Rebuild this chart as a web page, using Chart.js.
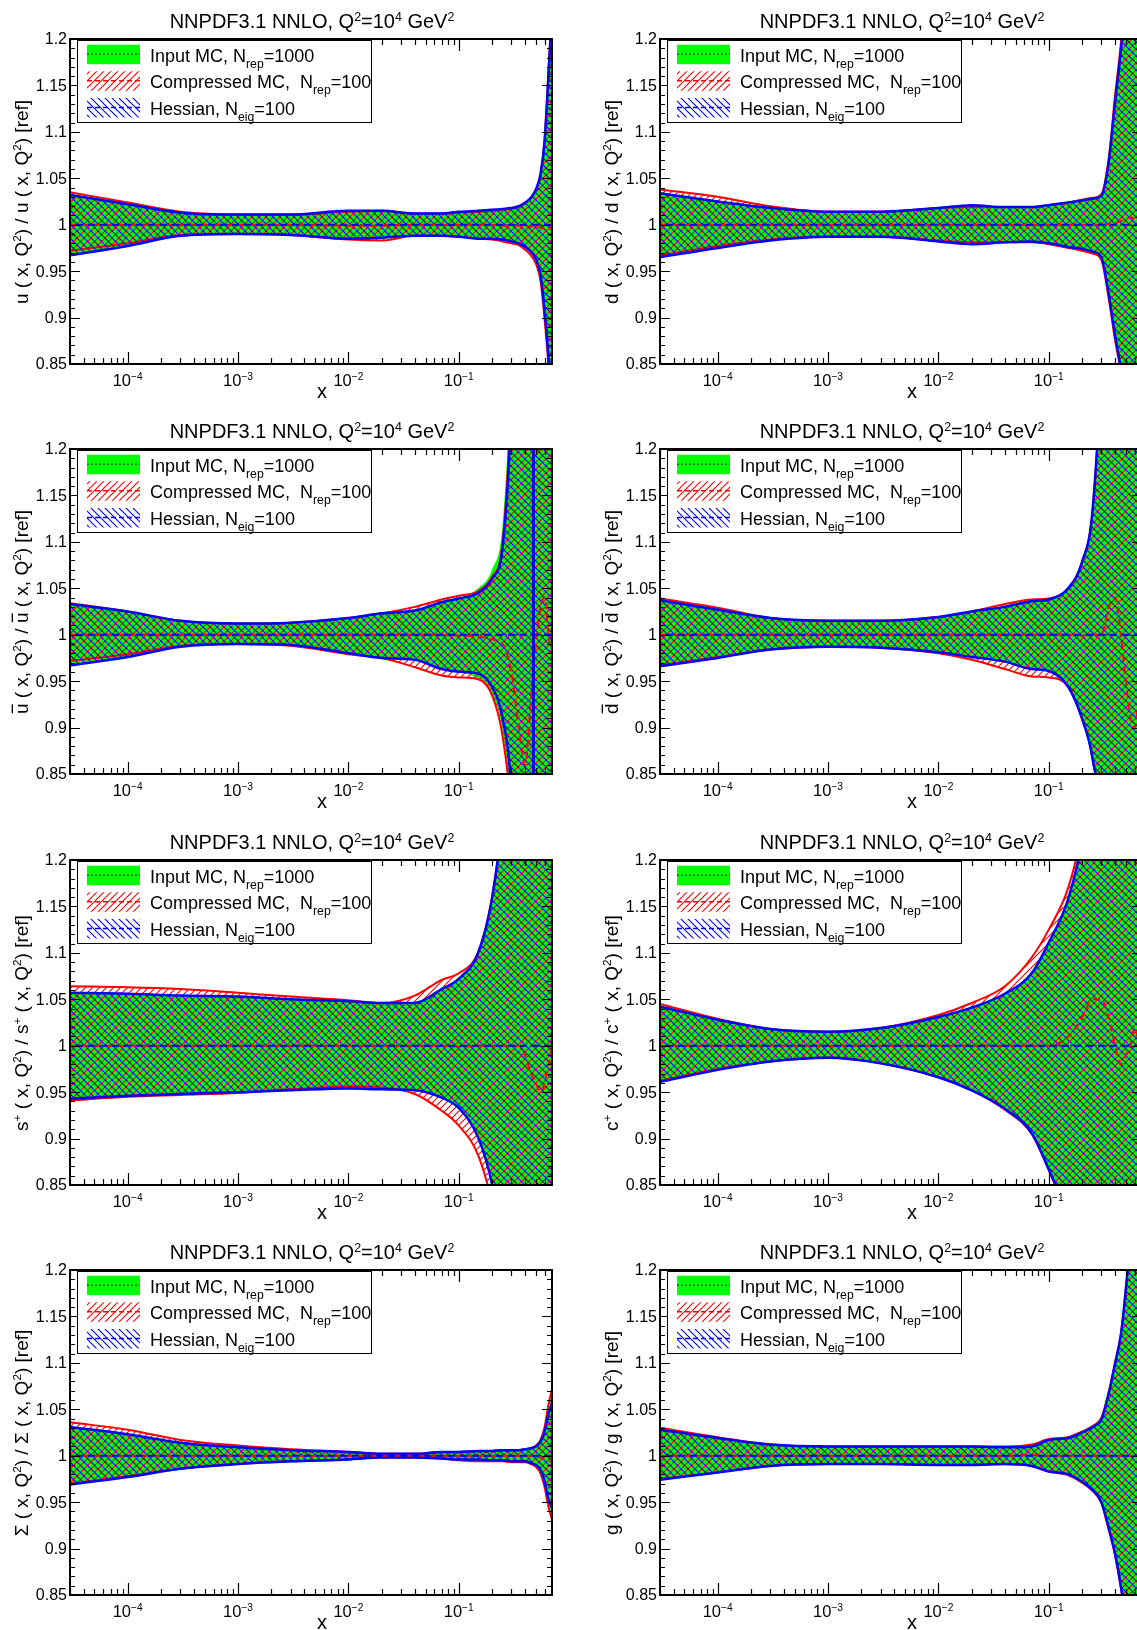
<!DOCTYPE html>
<html>
<head>
<meta charset="utf-8">
<script src="https://cdn.jsdelivr.net/npm/chart.js@4.4.1/dist/chart.umd.min.js"></script>
<style>
  html, body { margin: 0; padding: 0; background: #fff; overflow: hidden; }
  #wrap { position: relative; width: 1137px; height: 1630px; overflow: hidden; }
  #wrap canvas { position: absolute; }
</style>
</head>
<body>
<div id="wrap"></div>
<script>
// x grid shared by every band (log scale)
const xGrid = [3e-5, 1e-4, 3e-4, 1e-3, 3e-3, 1e-2, 2e-2, 4e-2, 7e-2, 0.1, 0.15, 0.2, 0.25, 0.3, 0.35, 0.4, 0.45, 0.5, 0.55, 0.6, 0.65, 0.7];
const ones  = [1, 1, 1, 1, 1, 1, 1, 1, 1, 1, 1, 1, 1, 1, 1, 1, 1, 1, 1, 1, 1, 1];

const yTickVals   = [0.85, 0.9, 0.95, 1, 1.05, 1.1, 1.15, 1.2];
const yTickLabels = ['0.85', '0.9', '0.95', '1', '1.05', '1.1', '1.15', '1.2'];
const xTickExps   = [-4, -3, -2, -1];

// u
const uMcUp  = [1.033, 1.023, 1.013, 1.011, 1.011, 1.014, 1.015, 1.012, 1.012, 1.014, 1.015, 1.016, 1.017, 1.018, 1.020, 1.024, 1.029, 1.038, 1.054, 1.090, 1.158, 1.230];
const uMcLo  = [0.967, 0.977, 0.988, 0.990, 0.989, 0.985, 0.985, 0.988, 0.988, 0.987, 0.985, 0.985, 0.984, 0.982, 0.980, 0.976, 0.971, 0.963, 0.947, 0.907, 0.857, 0.790];
const uCmUp  = [1.035, 1.024, 1.014, 1.011, 1.011, 1.014, 1.015, 1.012, 1.012, 1.013, 1.014, 1.015, 1.016, 1.017, 1.019, 1.023, 1.028, 1.037, 1.053, 1.092, 1.165, 1.240];
const uCmLo  = [0.972, 0.980, 0.989, 0.990, 0.989, 0.984, 0.983, 0.988, 0.988, 0.987, 0.985, 0.984, 0.982, 0.980, 0.978, 0.973, 0.967, 0.958, 0.940, 0.898, 0.848, 0.780];
const uHsUp  = [1.032, 1.022, 1.013, 1.011, 1.011, 1.015, 1.015, 1.012, 1.012, 1.014, 1.015, 1.016, 1.017, 1.018, 1.020, 1.024, 1.029, 1.038, 1.054, 1.090, 1.160, 1.230];
const uHsLo  = [0.967, 0.977, 0.988, 0.990, 0.989, 0.985, 0.986, 0.988, 0.988, 0.987, 0.985, 0.985, 0.984, 0.982, 0.980, 0.976, 0.971, 0.963, 0.947, 0.907, 0.857, 0.790];
const uCmMid = [1.000, 1.000, 1.000, 1.000, 1.000, 0.999, 0.999, 1.000, 1.000, 1.000, 1.000, 1.000, 0.999, 0.999, 0.999, 0.999, 0.998, 0.998, 0.997, 0.996, 0.995, 0.995];

// d
const dMcUp  = [1.034, 1.025, 1.018, 1.014, 1.014, 1.018, 1.020, 1.019, 1.019, 1.021, 1.024, 1.026, 1.028, 1.031, 1.068, 1.133, 1.187, 1.250, 1.350, 1.500, 1.700, 2.000];
const dMcLo  = [0.966, 0.976, 0.984, 0.987, 0.987, 0.983, 0.980, 0.981, 0.982, 0.980, 0.976, 0.974, 0.971, 0.965, 0.925, 0.880, 0.845, 0.800, 0.720, 0.600, 0.500, 0.400];
const dCmUp  = [1.038, 1.030, 1.020, 1.014, 1.014, 1.018, 1.019, 1.019, 1.019, 1.021, 1.024, 1.027, 1.029, 1.033, 1.072, 1.140, 1.195, 1.260, 1.360, 1.500, 1.700, 2.000];
const dCmLo  = [0.967, 0.977, 0.984, 0.987, 0.987, 0.983, 0.981, 0.981, 0.981, 0.979, 0.975, 0.972, 0.969, 0.962, 0.920, 0.875, 0.840, 0.790, 0.710, 0.600, 0.500, 0.400];
const dHsUp  = [1.034, 1.025, 1.018, 1.014, 1.014, 1.018, 1.021, 1.019, 1.019, 1.021, 1.024, 1.026, 1.028, 1.031, 1.068, 1.133, 1.187, 1.250, 1.350, 1.500, 1.700, 2.000];
const dHsLo  = [0.965, 0.975, 0.983, 0.987, 0.987, 0.982, 0.979, 0.981, 0.982, 0.980, 0.976, 0.974, 0.971, 0.965, 0.925, 0.880, 0.845, 0.800, 0.720, 0.600, 0.500, 0.400];
const dCmMid = [1.000, 1.000, 1.000, 1.000, 1.000, 1.000, 1.000, 1.000, 1.000, 1.000, 1.000, 1.000, 1.000, 1.000, 1.001, 1.002, 1.004, 1.006, 1.008, 1.006, 1.002, 0.998];

// ubar
const ubMcUp  = [1.034, 1.025, 1.015, 1.012, 1.013, 1.018, 1.023, 1.026, 1.035, 1.039, 1.050, 1.070, 1.120, 1.300, 1.600, 1.800, 2.000, 2.000, 2.000, 2.000, 2.000, 2.000];
const ubMcLo  = [0.967, 0.976, 0.987, 0.990, 0.989, 0.980, 0.975, 0.973, 0.963, 0.960, 0.952, 0.935, 0.895, 0.800, 0.600, 0.400, 0.200, 0.200, 0.200, 0.200, 0.200, 0.200];
const ubCmUp  = [1.034, 1.025, 1.015, 1.012, 1.013, 1.018, 1.023, 1.030, 1.038, 1.042, 1.047, 1.062, 1.100, 1.270, 1.600, 1.800, 2.000, 2.000, 2.000, 2.000, 2.000, 2.000];
const ubCmLo  = [0.972, 0.979, 0.988, 0.990, 0.988, 0.979, 0.975, 0.965, 0.956, 0.954, 0.952, 0.935, 0.890, 0.800, 0.600, 0.400, 0.200, 0.200, 0.200, 0.200, 0.200, 0.200];
const ubHsUp  = [1.033, 1.025, 1.015, 1.012, 1.013, 1.018, 1.023, 1.026, 1.035, 1.039, 1.045, 1.060, 1.095, 1.250, 1.600, 1.800, 2.000, 2.000, 2.000, 2.000, 2.000, 2.000];
const ubHsLo  = [0.967, 0.976, 0.987, 0.990, 0.989, 0.980, 0.975, 0.973, 0.963, 0.960, 0.958, 0.944, 0.910, 0.830, 0.600, 0.400, 0.200, 0.200, 0.200, 0.200, 0.200, 0.200];
const ubCmMid = [1.000, 1.000, 1.000, 1.000, 1.000, 1.000, 1.000, 1.000, 1.000, 0.999, 0.998, 0.995, 0.990, 0.960, 0.900, 0.860, 0.930, 0.990, 1.030, 1.040, 1.000, 0.980];
const ubPoleX = [0.475, 0.475];
const ubPoleY = [0.80, 1.25];

// dbar
const dbMcUp  = [1.038, 1.028, 1.018, 1.015, 1.015, 1.019, 1.025, 1.030, 1.036, 1.038, 1.050, 1.078, 1.135, 1.300, 1.600, 2.000, 2.000, 2.000, 2.000, 2.000, 2.000, 2.000];
const dbMcLo  = [0.966, 0.975, 0.984, 0.987, 0.986, 0.981, 0.976, 0.971, 0.963, 0.961, 0.944, 0.910, 0.866, 0.780, 0.500, 0.200, 0.200, 0.200, 0.200, 0.200, 0.200, 0.200];
const dbCmUp  = [1.039, 1.029, 1.018, 1.015, 1.015, 1.019, 1.025, 1.033, 1.038, 1.039, 1.050, 1.078, 1.135, 1.300, 1.600, 2.000, 2.000, 2.000, 2.000, 2.000, 2.000, 2.000];
const dbCmLo  = [0.967, 0.976, 0.984, 0.987, 0.986, 0.980, 0.973, 0.963, 0.955, 0.954, 0.944, 0.910, 0.866, 0.780, 0.500, 0.200, 0.200, 0.200, 0.200, 0.200, 0.200, 0.200];
const dbHsUp  = [1.037, 1.027, 1.018, 1.015, 1.015, 1.019, 1.025, 1.030, 1.036, 1.038, 1.050, 1.078, 1.135, 1.300, 1.600, 2.000, 2.000, 2.000, 2.000, 2.000, 2.000, 2.000];
const dbHsLo  = [0.966, 0.975, 0.984, 0.987, 0.986, 0.981, 0.976, 0.971, 0.963, 0.961, 0.944, 0.910, 0.866, 0.780, 0.500, 0.200, 0.200, 0.200, 0.200, 0.200, 0.200, 0.200];
const dbCmMid = [1.000, 1.000, 1.000, 1.000, 1.000, 1.000, 1.000, 1.000, 1.000, 1.000, 1.000, 0.999, 1.000, 1.000, 1.030, 1.040, 1.000, 0.950, 0.910, 0.900, 0.930, 0.960];

// s+
const spMcUp  = [1.057, 1.056, 1.054, 1.053, 1.050, 1.048, 1.046, 1.046, 1.062, 1.073, 1.101, 1.160, 1.250, 1.400, 1.600, 2.000, 2.000, 2.000, 2.000, 2.000, 2.000, 2.000];
const spMcLo  = [0.943, 0.946, 0.948, 0.950, 0.952, 0.954, 0.953, 0.952, 0.944, 0.933, 0.900, 0.850, 0.780, 0.600, 0.400, 0.200, 0.200, 0.200, 0.200, 0.200, 0.200, 0.200];
const spCmUp  = [1.064, 1.063, 1.061, 1.057, 1.053, 1.049, 1.046, 1.054, 1.071, 1.078, 1.101, 1.160, 1.250, 1.400, 1.600, 2.000, 2.000, 2.000, 2.000, 2.000, 2.000, 2.000];
const spCmLo  = [0.941, 0.945, 0.947, 0.949, 0.953, 0.956, 0.955, 0.948, 0.930, 0.914, 0.882, 0.830, 0.760, 0.600, 0.400, 0.200, 0.200, 0.200, 0.200, 0.200, 0.200, 0.200];
const spHsUp  = [1.057, 1.056, 1.054, 1.053, 1.050, 1.048, 1.046, 1.046, 1.061, 1.072, 1.100, 1.158, 1.250, 1.400, 1.600, 2.000, 2.000, 2.000, 2.000, 2.000, 2.000, 2.000];
const spHsLo  = [0.943, 0.946, 0.948, 0.950, 0.952, 0.954, 0.953, 0.952, 0.944, 0.933, 0.901, 0.851, 0.780, 0.600, 0.400, 0.200, 0.200, 0.200, 0.200, 0.200, 0.200, 0.200];
const spCmMid = [1.000, 1.000, 1.000, 1.000, 1.000, 1.000, 1.000, 1.000, 1.000, 0.999, 1.000, 1.000, 1.000, 1.000, 1.000, 0.990, 0.970, 0.960, 0.950, 0.960, 0.980, 1.000];

// c+
const cpMcUp  = [1.043, 1.028, 1.018, 1.015, 1.019, 1.031, 1.041, 1.056, 1.078, 1.112, 1.160, 1.220, 1.300, 1.500, 1.800, 2.000, 2.000, 2.000, 2.000, 2.000, 2.000, 2.000];
const cpMcLo  = [0.961, 0.974, 0.983, 0.987, 0.981, 0.966, 0.952, 0.931, 0.905, 0.865, 0.810, 0.750, 0.700, 0.500, 0.300, 0.200, 0.200, 0.200, 0.200, 0.200, 0.200, 0.200];
const cpCmUp  = [1.045, 1.029, 1.018, 1.015, 1.019, 1.033, 1.046, 1.064, 1.095, 1.125, 1.170, 1.230, 1.300, 1.500, 1.800, 2.000, 2.000, 2.000, 2.000, 2.000, 2.000, 2.000];
const cpCmLo  = [0.962, 0.975, 0.983, 0.987, 0.981, 0.966, 0.952, 0.931, 0.905, 0.866, 0.812, 0.750, 0.700, 0.500, 0.300, 0.200, 0.200, 0.200, 0.200, 0.200, 0.200, 0.200];
const cpHsUp  = [1.042, 1.028, 1.018, 1.015, 1.019, 1.031, 1.041, 1.056, 1.078, 1.111, 1.158, 1.220, 1.300, 1.500, 1.800, 2.000, 2.000, 2.000, 2.000, 2.000, 2.000, 2.000];
const cpHsLo  = [0.961, 0.974, 0.983, 0.987, 0.981, 0.966, 0.952, 0.932, 0.906, 0.867, 0.813, 0.750, 0.700, 0.500, 0.300, 0.200, 0.200, 0.200, 0.200, 0.200, 0.200, 0.200];
const cpCmMid = [1.000, 1.000, 1.000, 1.000, 1.000, 1.000, 1.000, 1.000, 1.000, 1.000, 1.010, 1.030, 1.050, 1.050, 1.030, 1.000, 0.980, 0.990, 1.000, 1.020, 1.000, 0.990];

// Sigma
const sgMcUp  = [1.031, 1.023, 1.014, 1.009, 1.006, 1.004, 1.002, 1.002, 1.004, 1.004, 1.005, 1.005, 1.006, 1.006, 1.006, 1.007, 1.008, 1.010, 1.016, 1.028, 1.050, 1.065];
const sgMcLo  = [0.969, 0.977, 0.986, 0.991, 0.994, 0.996, 0.998, 0.998, 0.997, 0.996, 0.996, 0.995, 0.995, 0.994, 0.994, 0.994, 0.992, 0.990, 0.984, 0.971, 0.949, 0.935];
const sgCmUp  = [1.036, 1.028, 1.017, 1.011, 1.007, 1.004, 1.002, 1.002, 1.004, 1.004, 1.005, 1.005, 1.006, 1.006, 1.006, 1.007, 1.008, 1.011, 1.017, 1.031, 1.055, 1.071];
const sgCmLo  = [0.970, 0.978, 0.986, 0.991, 0.994, 0.996, 0.998, 0.998, 0.997, 0.995, 0.994, 0.994, 0.994, 0.993, 0.993, 0.993, 0.991, 0.988, 0.981, 0.966, 0.945, 0.931];
const sgHsUp  = [1.031, 1.023, 1.014, 1.009, 1.006, 1.004, 1.002, 1.002, 1.004, 1.004, 1.005, 1.005, 1.006, 1.006, 1.006, 1.007, 1.008, 1.010, 1.015, 1.026, 1.045, 1.057];
const sgHsLo  = [0.969, 0.977, 0.986, 0.991, 0.994, 0.996, 0.998, 0.998, 0.997, 0.996, 0.996, 0.995, 0.995, 0.994, 0.994, 0.994, 0.992, 0.990, 0.985, 0.972, 0.953, 0.944];
const sgCmMid = [1.000, 1.000, 1.000, 1.000, 1.000, 1.000, 1.000, 1.000, 1.000, 1.000, 1.000, 1.000, 1.000, 1.000, 1.000, 1.000, 1.000, 0.999, 0.998, 0.997, 0.995, 0.993];

// g
const gMcUp  = [1.028, 1.019, 1.012, 1.010, 1.010, 1.010, 1.010, 1.009, 1.010, 1.017, 1.019, 1.025, 1.031, 1.039, 1.067, 1.100, 1.130, 1.180, 1.240, 1.350, 1.500, 1.700];
const gMcLo  = [0.974, 0.982, 0.989, 0.991, 0.991, 0.990, 0.990, 0.991, 0.989, 0.983, 0.980, 0.972, 0.963, 0.950, 0.922, 0.894, 0.860, 0.820, 0.760, 0.680, 0.600, 0.500];
const gCmUp  = [1.030, 1.020, 1.012, 1.010, 1.010, 1.010, 1.010, 1.010, 1.012, 1.018, 1.020, 1.026, 1.032, 1.041, 1.069, 1.100, 1.130, 1.180, 1.240, 1.350, 1.500, 1.700];
const gCmLo  = [0.975, 0.982, 0.989, 0.991, 0.991, 0.990, 0.990, 0.991, 0.989, 0.983, 0.979, 0.971, 0.962, 0.949, 0.920, 0.892, 0.858, 0.818, 0.760, 0.680, 0.600, 0.500];
const gHsUp  = [1.028, 1.019, 1.012, 1.010, 1.010, 1.010, 1.010, 1.009, 1.010, 1.017, 1.019, 1.025, 1.031, 1.039, 1.067, 1.100, 1.130, 1.180, 1.240, 1.350, 1.500, 1.700];
const gHsLo  = [0.974, 0.982, 0.989, 0.991, 0.991, 0.990, 0.990, 0.991, 0.989, 0.983, 0.980, 0.972, 0.963, 0.950, 0.922, 0.894, 0.860, 0.820, 0.760, 0.680, 0.600, 0.500];
const gCmMid = [1.000, 1.000, 1.000, 1.000, 1.000, 1.000, 1.000, 1.000, 1.001, 1.000, 1.000, 1.000, 1.000, 1.000, 1.000, 1.000, 1.000, 1.000, 1.000, 1.000, 1.000, 1.000];

const FONT = '"Liberation Sans", Arial, Helvetica, sans-serif';
const GREEN = 'rgb(0,255,0)', DKGREEN = 'rgb(20,100,20)', RED = 'rgb(255,0,0)', BLUE = 'rgb(0,0,255)';

function hatch(color, slash) {
  const s = 7;
  const c = document.createElement('canvas');
  c.width = s; c.height = s;
  const g = c.getContext('2d');
  g.strokeStyle = color;
  g.lineWidth = 1.1;
  g.beginPath();
  for (let k = -1; k <= 1; k++) {
    if (slash) { g.moveTo(k * s - 1, s + 1); g.lineTo(k * s + s + 1, -1); }
    else { g.moveTo(k * s - 1, -1); g.lineTo(k * s + s + 1, s + 1); }
  }
  g.stroke();
  return g.createPattern(c, 'repeat');
}
const redHatch = hatch(RED, true);
const blueHatch = hatch(BLUE, false);

// rich text: segments {t, sup, sub, bar}
function segSize(size, s) {
  if (s.sup) return size * 0.62;
  if (s.sub) return size * 0.68;
  return size;
}
function richWidth(ctx, segs, size) {
  let w = 0;
  for (const s of segs) {
    ctx.font = segSize(size, s) + 'px ' + FONT;
    w += ctx.measureText(s.t).width;
  }
  return w;
}
function drawRich(ctx, segs, x, y, size, align) {
  const total = richWidth(ctx, segs, size);
  let cx = x;
  if (align === 'center') cx = x - total / 2;
  if (align === 'right') cx = x - total;
  ctx.textAlign = 'left';
  ctx.textBaseline = 'alphabetic';
  for (const s of segs) {
    ctx.font = segSize(size, s) + 'px ' + FONT;
    const dy = s.sup ? -size * 0.36 : (s.sub ? size * 0.33 : 0);
    ctx.fillText(s.t, cx, y + dy);
    const w = ctx.measureText(s.t).width;
    if (s.bar) ctx.fillRect(cx + w * 0.08, y - size * 0.86, w * 0.84, 1.3);
    cx += w;
  }
}

function yLabel(sym, bar, plus) {
  const head = plus ? [{ t: sym, bar: bar }, { t: '+', sup: true }] : [{ t: sym, bar: bar }];
  return [].concat(head, [{ t: ' ( x, Q' }, { t: '2', sup: true }, { t: ') / ' }], head,
    [{ t: ' ( x, Q' }, { t: '2', sup: true }, { t: ') [ref]' }]);
}

const titleSegs = [{ t: 'NNPDF3.1 NNLO, Q' }, { t: '2', sup: true }, { t: '=10' }, { t: '4', sup: true }, { t: ' GeV' }, { t: '2', sup: true }];
const legendLabels = [
  [{ t: 'Input MC, N' }, { t: 'rep', sub: true }, { t: '=1000' }],
  [{ t: 'Compressed MC,  N' }, { t: 'rep', sub: true }, { t: '=100' }],
  [{ t: 'Hessian, N' }, { t: 'eig', sub: true }, { t: '=100' }]
];

const panels = [
  { label: yLabel('u', false, false), mcUp: uMcUp, mcLo: uMcLo, cmUp: uCmUp, cmLo: uCmLo, hsUp: uHsUp, hsLo: uHsLo, cmMid: uCmMid },
  { label: yLabel('d', false, false), mcUp: dMcUp, mcLo: dMcLo, cmUp: dCmUp, cmLo: dCmLo, hsUp: dHsUp, hsLo: dHsLo, cmMid: dCmMid },
  { label: yLabel('u', true, false), mcUp: ubMcUp, mcLo: ubMcLo, cmUp: ubCmUp, cmLo: ubCmLo, hsUp: ubHsUp, hsLo: ubHsLo, cmMid: ubCmMid, poleX: ubPoleX, poleY: ubPoleY },
  { label: yLabel('d', true, false), mcUp: dbMcUp, mcLo: dbMcLo, cmUp: dbCmUp, cmLo: dbCmLo, hsUp: dbHsUp, hsLo: dbHsLo, cmMid: dbCmMid },
  { label: yLabel('s', false, true), mcUp: spMcUp, mcLo: spMcLo, cmUp: spCmUp, cmLo: spCmLo, hsUp: spHsUp, hsLo: spHsLo, cmMid: spCmMid },
  { label: yLabel('c', false, true), mcUp: cpMcUp, mcLo: cpMcLo, cmUp: cpCmUp, cmLo: cpCmLo, hsUp: cpHsUp, hsLo: cpHsLo, cmMid: cpCmMid },
  { label: yLabel('\u03A3', false, false), mcUp: sgMcUp, mcLo: sgMcLo, cmUp: sgCmUp, cmLo: sgCmLo, hsUp: sgHsUp, hsLo: sgHsLo, cmMid: sgCmMid },
  { label: yLabel('g', false, false), mcUp: gMcUp, mcLo: gMcLo, cmUp: gCmUp, cmLo: gCmLo, hsUp: gHsUp, hsLo: gHsLo, cmMid: gCmMid }
];

const rowTops = [0, 410, 821, 1231];

function pts(arr) {
  return xGrid.map((x, i) => ({ x: x, y: arr[i] }));
}

function decor(p) {
  return {
    id: 'decor',
    afterDatasetsDraw(chart) {
      const ctx = chart.ctx, a = chart.chartArea, xs = chart.scales.x, ys = chart.scales.y;
      ctx.save();
      ctx.strokeStyle = '#000';
      ctx.fillStyle = '#000';
      ctx.setLineDash([]);

      // ticks on all four sides
      ctx.lineWidth = 1.2;
      ctx.beginPath();
      for (let k = 85; k <= 120; k++) {
        const y = Math.round(ys.getPixelForValue(k / 100)) + 0.5;
        const L = k % 5 === 0 ? 10 : 5;
        ctx.moveTo(a.left, y); ctx.lineTo(a.left + L, y);
        ctx.moveTo(a.right, y); ctx.lineTo(a.right - L, y);
      }
      for (let e = -5; e <= 0; e++) {
        for (let m = 1; m <= 9; m++) {
          const v = m * Math.pow(10, e);
          if (v < xs.min || v > xs.max) continue;
          const x = Math.round(xs.getPixelForValue(v)) + 0.5;
          const L = m === 1 ? 12 : 6;
          ctx.moveTo(x, a.bottom); ctx.lineTo(x, a.bottom - L);
          ctx.moveTo(x, a.top); ctx.lineTo(x, a.top + L);
        }
      }
      ctx.stroke();
      ctx.lineWidth = 2;
      ctx.strokeRect(a.left, a.top, a.right - a.left, a.bottom - a.top);

      // tick labels
      ctx.font = '16px ' + FONT;
      ctx.textAlign = 'right';
      ctx.textBaseline = 'middle';
      yTickVals.forEach((v, i) => ctx.fillText(yTickLabels[i], a.left - 3, ys.getPixelForValue(v) + 1));
      xTickExps.forEach(e => {
        drawRich(ctx, [{ t: '10' }, { t: '\u2212' + (-e), sup: true }], xs.getPixelForValue(Math.pow(10, e)), a.bottom + 22, 16.5, 'center');
      });

      // axis titles
      ctx.font = '20px ' + FONT;
      ctx.textAlign = 'center';
      ctx.textBaseline = 'alphabetic';
      ctx.fillText('x', 322, 398);
      ctx.save();
      ctx.translate(28, 202);
      ctx.rotate(-Math.PI / 2);
      drawRich(ctx, p.label, 0, 0, 19, 'center');
      ctx.restore();

      // title
      drawRich(ctx, titleSegs, 312, 28, 20, 'center');

      // legend
      const rows = [61.7, 88.3, 115];
      const sw = [
        { fill: GREEN, line: DKGREEN, dash: [2, 2] },
        { fill: redHatch, line: RED, dash: [5, 3] },
        { fill: blueHatch, line: BLUE, dash: [5, 3] }
      ];
      ctx.fillStyle = '#fff';
      ctx.fillRect(77, 40, 294, 82);
      ctx.lineWidth = 1;
      ctx.strokeStyle = '#000';
      ctx.strokeRect(77.5, 40.5, 294, 82);
      legendLabels.forEach((segs, i) => {
        const b = rows[i];
        ctx.fillStyle = sw[i].fill;
        ctx.fillRect(87, b - 17, 53, 19.5);
        ctx.strokeStyle = sw[i].line;
        ctx.lineWidth = 1.5;
        ctx.setLineDash(sw[i].dash);
        ctx.beginPath();
        ctx.moveTo(87, b - 7.5);
        ctx.lineTo(140, b - 7.5);
        ctx.stroke();
        ctx.setLineDash([]);
        ctx.fillStyle = '#000';
        drawRich(ctx, segs, 150, b, 18, 'left');
      });
      ctx.restore();
    }
  };
}

const wrap = document.getElementById('wrap');
panels.forEach((p, idx) => {
  const col = idx % 2, row = Math.floor(idx / 2);
  const cv = document.createElement('canvas');
  cv.width = 590; cv.height = 410;
  cv.style.width = '590px'; cv.style.height = '410px';
  cv.style.left = (col * 590) + 'px';
  cv.style.top = rowTops[row] + 'px';
  wrap.appendChild(cv);

  const common = { pointRadius: 0, cubicInterpolationMode: 'monotone' };
  const datasets = [
    Object.assign({ data: pts(p.mcUp), fill: '+1', backgroundColor: GREEN, borderWidth: 0, order: 30 }, common),
    Object.assign({ data: pts(p.mcLo), fill: false, borderWidth: 0, order: 29 }, common),
    Object.assign({ data: pts(p.cmUp), fill: '+1', backgroundColor: redHatch, borderColor: RED, borderWidth: 2, order: 20 }, common),
    Object.assign({ data: pts(p.cmLo), fill: false, borderColor: RED, borderWidth: 2, order: 19 }, common),
    Object.assign({ data: pts(p.hsUp), fill: '+1', backgroundColor: blueHatch, borderColor: BLUE, borderWidth: 2.5, order: 10 }, common),
    Object.assign({ data: pts(p.hsLo), fill: false, borderColor: BLUE, borderWidth: 2.5, order: 9 }, common),
    Object.assign({ data: pts(ones), fill: false, borderColor: DKGREEN, borderWidth: 1.5, borderDash: [2, 3], order: 5 }, common),
    Object.assign({ data: pts(p.cmMid), fill: false, borderColor: RED, borderWidth: 2, borderDash: [7, 5], order: 4 }, common),
    Object.assign({ data: pts(ones), fill: false, borderColor: BLUE, borderWidth: 2, borderDash: [7, 5], borderDashOffset: 6, order: 3 }, common)
  ];
  if (p.poleX) {
    datasets.push({ data: p.poleX.map((x, i) => ({ x: x, y: p.poleY[i] })), fill: false, borderColor: BLUE, borderWidth: 3, pointRadius: 0, order: 2 });
  }

  new Chart(cv, {
    type: 'line',
    data: { datasets: datasets },
    options: {
      responsive: false,
      devicePixelRatio: 1,
      animation: false,
      events: [],
      layout: { padding: { left: 0, top: 39, right: 38, bottom: 0 } },
      plugins: { legend: { display: false }, title: { display: false }, tooltip: { enabled: false } },
      scales: {
        x: {
          type: 'logarithmic', min: 3e-5, max: 0.7,
          ticks: { display: false }, grid: { display: false }, border: { display: false },
          afterFit: s => { s.height = 46; }
        },
        y: {
          type: 'linear', min: 0.85, max: 1.2,
          ticks: { display: false }, grid: { display: false }, border: { display: false },
          afterFit: s => { s.width = 70; }
        }
      }
    },
    plugins: [decor(p)]
  });
});
</script>
</body>
</html>
